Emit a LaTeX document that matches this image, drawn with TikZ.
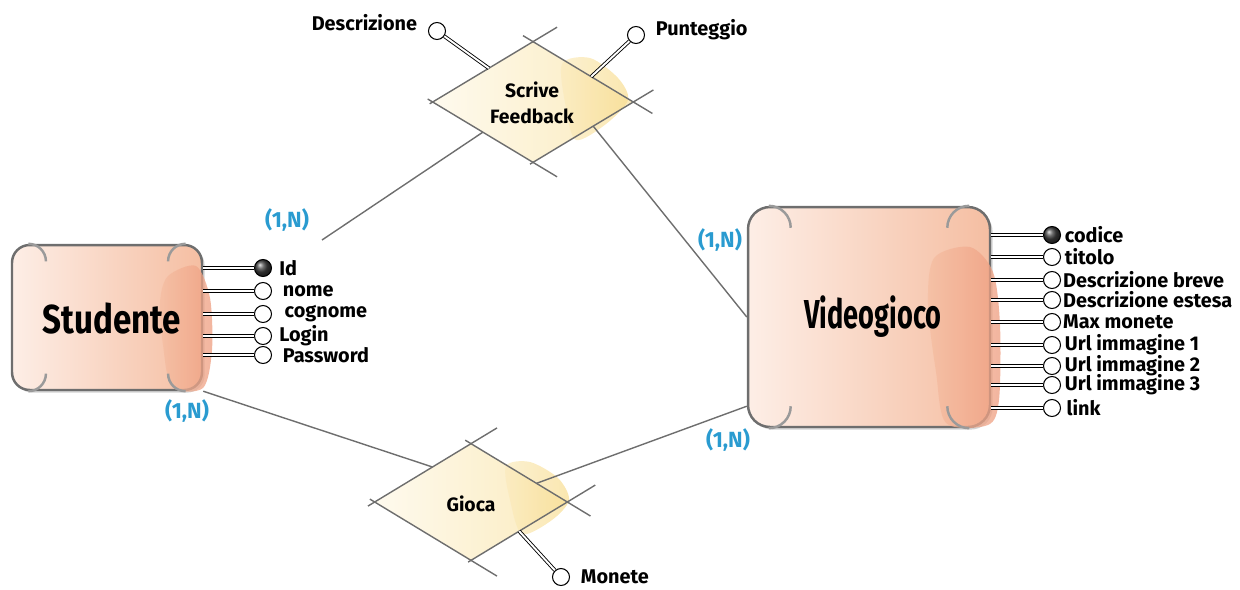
\documentclass[tikz,border=0pt]{standalone}
\usepackage{fontspec}
\setmainfont{Fira Sans}
\newfontfamily\entfont[FakeStretch=0.82]{Fira Sans}
\usetikzlibrary{positioning,calc,shapes.geometric,shadows}
\definecolor{entlight}{HTML}{FDEEE6}
\definecolor{entdark}{HTML}{F5BEA2}
\definecolor{entblob}{HTML}{EE9C7E}
\definecolor{rellight}{HTML}{FEFAEE}
\definecolor{reldark}{HTML}{FBEBBE}
\definecolor{relblob}{HTML}{F8DC8E}
\definecolor{edgegray}{HTML}{6E6E6E}
\definecolor{cardblue}{HTML}{2A9BD0}
\tikzset{
  ent/.style={rectangle,draw=edgegray,line width=1.4pt,
              left color=entlight,right color=entdark,
              drop shadow={shadow xshift=1.5pt,shadow yshift=-1.5pt,opacity=0.35}},
  ename/.style={font=\entfont\bfseries\fontsize{23}{26}\selectfont},
  rel/.style={diamond,inner sep=0pt,left color=rellight,right color=reldark},
  rname/.style={font=\bfseries\fontsize{11}{13}\selectfont,align=center},
  side/.style={edgegray,line width=0.8pt},
  hook/.style={edgegray!70,line width=1.4pt},
  attr/.style={circle,draw,fill=white,minimum size=0.34cm,inner sep=0pt,
               line width=0.6pt},
  key/.style={attr,shading=ball,ball color=black!75},
  aname/.style={font=\bfseries\fontsize{11.3}{13}\selectfont,inner sep=1pt},
  stick/.style={double=white,double distance=1.1pt,line width=0.5pt},
  link/.style={edgegray,line width=0.8pt},
  card/.style={font=\bfseries\fontsize{12.5}{14}\selectfont,text=cardblue},
}

\begin{document}
\begin{tikzpicture}[x=0.02cm, y=-0.02cm]
  \useasboundingbox (0,0) rectangle (1240,589);

  % entita
  \node[ent,rounded corners=10pt,minimum width=3.8cm,minimum height=2.9cm]
       (stu) at (107,317.5) {};
  \shade[left color=entdark,right color=entblob,opacity=.75]
       plot[smooth cycle] coordinates {(168,276) (196,266) (210,298) (212,350)
       (203,388) (172,387) (163,345) (160,302)};
  \draw[hook] ([xshift=10pt]stu.north west) arc[start angle=90,end angle=0,radius=10pt];
  \draw[hook] ([xshift=-10pt]stu.north east) arc[start angle=90,end angle=180,radius=10pt];
  \draw[hook] ([xshift=10pt]stu.south west) arc[start angle=-90,end angle=0,radius=10pt];
  \draw[hook] ([xshift=-10pt]stu.south east) arc[start angle=-90,end angle=-180,radius=10pt];
  \node[ename] (stuT) at (112,318) {Studente};

  \node[ent,rounded corners=12.5pt,minimum width=4.84cm,minimum height=4.4cm]
       (vg) at (869,317) {};
  \shade[left color=entdark,right color=entblob,opacity=.75]
       plot[smooth cycle] coordinates {(934,258) (970,247) (993,272) (1000,325)
       (999,400) (988,425) (946,423) (936,372) (928,305)};
  \draw[hook] ([xshift=12.5pt]vg.north west) arc[start angle=90,end angle=0,radius=12.5pt];
  \draw[hook] ([xshift=-12.5pt]vg.north east) arc[start angle=90,end angle=180,radius=12.5pt];
  \draw[hook] ([xshift=12.5pt]vg.south west) arc[start angle=-90,end angle=0,radius=12.5pt];
  \draw[hook] ([xshift=-12.5pt]vg.south east) arc[start angle=-90,end angle=-180,radius=12.5pt];
  \node[ename,xscale=0.82,transform shape] (vgT) at (873,317) {Videogioco};

  % relazioni
  \node[rel,minimum width=4cm,minimum height=2.4cm] (sf) at (533,102) {};
  \shade[left color=reldark,right color=relblob,opacity=.7]
       plot[smooth cycle] coordinates {(562,64) (590,58) (618,78) (628,100)
       (606,124) (576,140) (566,108)};
  \draw[side] ($(sf.west)!-0.03!(sf.north)$) -- ($(sf.west)!1.24!(sf.north)$);
  \draw[side] ($(sf.north)!-0.1!(sf.east)$) -- ($(sf.north)!1.19!(sf.east)$);
  \draw[side] ($(sf.south)!-0.03!(sf.east)$) -- ($(sf.south)!1.2!(sf.east)$);
  \draw[side] ($(sf.west)!-0.05!(sf.south)$) -- ($(sf.west)!1.24!(sf.south)$);
  \node[rname] (sfT) at (532,103) {Scrive\\[2pt]Feedback};

  \node[rel,minimum width=3.84cm,minimum height=2.32cm] (gi) at (471,502) {};
  \shade[left color=reldark,right color=relblob,opacity=.7]
       plot[smooth cycle] coordinates {(506,466) (530,462) (558,478) (569,500)
       (552,520) (522,534) (510,500)};
  \draw[side] ($(gi.west)!-0.07!(gi.north)$) -- ($(gi.west)!1.27!(gi.north)$);
  \draw[side] ($(gi.north)!-0.06!(gi.east)$) -- ($(gi.north)!1.24!(gi.east)$);
  \draw[side] ($(gi.south)!-0.03!(gi.east)$) -- ($(gi.south)!1.29!(gi.east)$);
  \draw[side] ($(gi.west)!-0.05!(gi.south)$) -- ($(gi.west)!1.27!(gi.south)$);
  \node[rname] (giT) at (471,504) {Gioca};

  % collegamenti
  \coordinate (sfEnd) at (322,240);
  \draw[link] (sfEnd) -- ($(sf.west)!0.5!(sf.south)$);
  \draw[link] ($(sf.east)!0.4!(sf.south)$) -- (vg.west);
  \draw[link] (stu.south east) -- ($(gi.west)!0.6!(gi.north)$);
  \draw[link] ($(gi.north)!0.68!(gi.east)$) -- ([yshift=0.44cm]vg.south west);

  \node[card] (c1) at (287,220) {(1,N)};
  \node[card] (c2) at (720,240) {(1,N)};
  \node[card] (c3) at (187,411) {(1,N)};
  \node[card] (c4) at (728,440) {(1,N)};

  % attributi Studente
  \node[key] (sId) at (263,268) {};
  \node[aname,right=3pt of sId] (tId) {Id};
  \draw[stick] (stu.east |- sId) -- (sId);
  \node[attr] (sNome) at (263,291) {};
  \node[aname,right=5pt of sNome] (tNome) {nome};
  \draw[stick] (stu.east |- sNome) -- (sNome);
  \node[attr] (sCogn) at (263,314) {};
  \node[aname,right=6pt of sCogn] (tCogn) {cognome};
  \draw[stick] (stu.east |- sCogn) -- (sCogn);
  \node[attr] (sLogin) at (263,336) {};
  \node[aname,right=3pt of sLogin] (tLogin) {Login};
  \draw[stick] (stu.east |- sLogin) -- (sLogin);
  \node[attr] (sPass) at (263,355) {};
  \node[aname,right=5pt of sPass] (tPass) {Password};
  \draw[stick] (stu.east |- sPass) -- (sPass);

  % attributi Videogioco
  \node[key] (vCod) at (1052,235) {};
  \node[aname,right=1pt of vCod] (tCod) {codice};
  \draw[stick] (vg.east |- vCod) -- (vCod);
  \node[attr] (vTit) at (1052,257) {};
  \node[aname,right=1pt of vTit] (tTit) {titolo};
  \draw[stick] (vg.east |- vTit) -- (vTit);
  \node[attr] (vDb) at (1052,280) {};
  \node[aname,right=0pt of vDb] (tDb) {Descrizione breve};
  \draw[stick] (vg.east |- vDb) -- (vDb);
  \node[attr] (vDe) at (1052,300) {};
  \node[aname,right=0pt of vDe] (tDe) {Descrizione estesa};
  \draw[stick] (vg.east |- vDe) -- (vDe);
  \node[attr] (vMax) at (1052,322) {};
  \node[aname,right=0pt of vMax] (tMax) {Max monete};
  \draw[stick] (vg.east |- vMax) -- (vMax);
  \node[attr] (vUrl1) at (1052,345) {};
  \node[aname,right=1pt of vUrl1] (tUrl1) {Url immagine 1};
  \draw[stick] (vg.east |- vUrl1) -- (vUrl1);
  \node[attr] (vUrl2) at (1052,366) {};
  \node[aname,right=1pt of vUrl2] (tUrl2) {Url immagine 2};
  \draw[stick] (vg.east |- vUrl2) -- (vUrl2);
  \node[attr] (vUrl3) at (1052,385) {};
  \node[aname,right=1pt of vUrl3] (tUrl3) {Url immagine 3};
  \draw[stick] (vg.east |- vUrl3) -- (vUrl3);
  \node[attr] (vLink) at (1052,408) {};
  \node[aname,right=2pt of vLink] (tLink) {link};
  \draw[stick] (vg.east |- vLink) -- (vLink);

  % attributi delle relazioni
  \node[attr] (aDesc) at (437,31) {};
  \node[aname,left=5pt of aDesc,yshift=5pt] (tDesc) {Descrizione};
  \draw[stick] ($(sf.west)!0.56!(sf.north)$) -- (aDesc);
  \node[attr] (aPunt) at (636,35) {};
  \node[aname,right=5pt of aPunt,yshift=3pt] (tPunt) {Punteggio};
  \draw[stick] ($(sf.north)!0.58!(sf.east)$) -- (aPunt);
  \node[attr] (aMon) at (561,577) {};
  \node[aname,right=5pt of aMon] (tMon) {Monete};
  \draw[stick] ($(gi.east)!0.5!(gi.south)$) -- (aMon);
\end{tikzpicture}
\end{document}
